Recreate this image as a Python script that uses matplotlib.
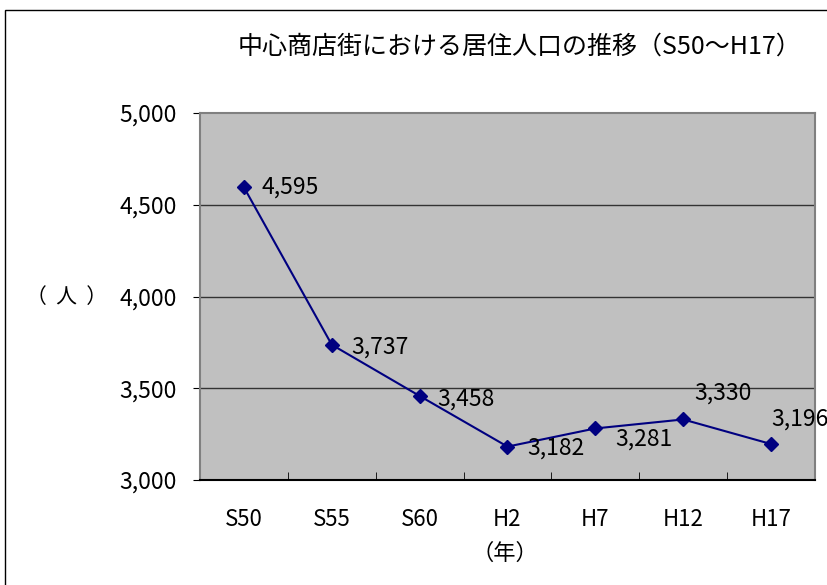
import matplotlib
matplotlib.use("Agg")
import matplotlib.pyplot as plt
from matplotlib.patches import Rectangle
import numpy as np

plt.rcParams['font.family'] = ['Noto Sans CJK JP', 'DejaVu Sans']

categories = ["S50", "S55", "S60", "H2", "H7", "H12", "H17"]
population = [4595, 3737, 3458, 3182, 3281, 3330, 3196]
yticks = [3000, 3500, 4000, 4500, 5000]
title = "中心商店街における居住人口の推移（S50～H17）"

# label offsets in points (dx, dy)
label_offsets = [(13, 0), (14, -2), (13, -2), (14, -1), (14, -8), (8, 19), (0, 18)]

W, H = 828, 585
fig = plt.figure(figsize=(W / 100, H / 100), dpi=100)
fig.patch.set_facecolor("white")

# outer chart border (extends beyond right/bottom)
fig.add_artist(Rectangle((5 / W, -0.1), 1.2, 1.1 - 10 / H, transform=fig.transFigure,
                         fill=False, edgecolor="black", linewidth=1.0))

left, right, top, bottom = 200, 815, 113, 480
ax = fig.add_axes([left / W, 1 - bottom / H, (right - left) / W, (bottom - top) / H])
ax.set_facecolor("#C0C0C0")

x = np.arange(len(categories))
ax.plot(x, population, color="#000080", linewidth=1.5, marker="D", markersize=7,
        markerfacecolor="#000080", markeredgecolor="#000080", zorder=3)

for xi, v, (dx, dy) in zip(x, population, label_offsets):
    ax.annotate(f"{v:,}", (xi, v), xytext=(dx, dy), textcoords="offset points",
                ha="left", va="center", fontsize=16.5, color="black",
                annotation_clip=False, clip_on=False)

ax.set_xlim(-0.5, len(categories) - 0.5)
ax.set_ylim(3000, 5000)
ax.set_yticks(yticks)
ax.set_yticklabels([f"{t:,}" for t in yticks], fontsize=16.5)
ax.set_xticks(x)
ax.set_xticklabels(categories, fontsize=16)
ax.tick_params(axis="x", which="major", length=0, pad=20)
ax.set_xticks(np.arange(0.5, len(categories) - 0.5, 1), minor=True)
ax.tick_params(axis="x", which="minor", direction="in", length=6, color="black")
ax.tick_params(axis="y", direction="out", length=5, pad=12, color="black")

for t in yticks[1:-1]:
    ax.axhline(t, color="#333333", linewidth=1, zorder=1)

ax.spines["left"].set_color("#808080")
ax.spines["top"].set_color("#808080")
ax.spines["right"].set_color("#808080")
ax.spines["bottom"].set_color("black")
ax.spines["bottom"].set_linewidth(1.5)
for s in ["left", "top", "right"]:
    ax.spines[s].set_linewidth(1.5)

fig.text(520 / W, 1 - 47 / H, title, ha="center", va="center", fontsize=18)
fig.text(67 / W, 1 - 297 / H, "（  人  ）", ha="center", va="center", fontsize=15)
fig.text(505 / W, 1 - 553 / H, "（年）", ha="center", va="center", fontsize=16)

fig.savefig("out.png", dpi=100)
